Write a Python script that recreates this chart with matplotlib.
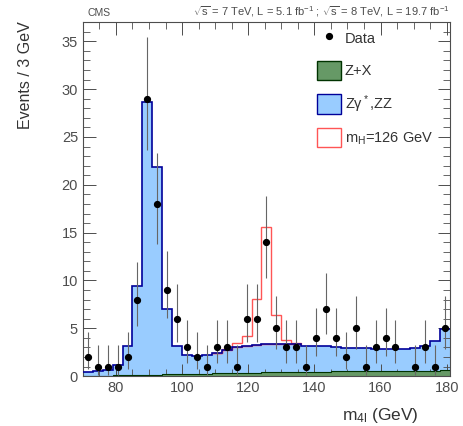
import math
import numpy as np
import matplotlib
matplotlib.use('Agg')
import matplotlib.pyplot as plt
from matplotlib.patches import Patch
from matplotlib.lines import Line2D
from matplotlib.ticker import MultipleLocator

plt.rcParams['font.family'] = ['Liberation Sans', 'DejaVu Sans']
plt.rcParams['mathtext.fontset'] = 'custom'
plt.rcParams['mathtext.rm'] = 'Liberation Sans'
plt.rcParams['mathtext.it'] = 'Liberation Sans'
plt.rcParams['mathtext.default'] = 'regular'

# 4-lepton mass spectrum, 3 GeV bins from 70 to 181
edges = np.arange(70, 182, 3)
centers = edges[:-1] + 1.5

data = [2, 1, 1, 1, 2, 8, 29, 18, 9, 6, 3, 2, 1, 3, 3, 1, 6, 6, 14, 5, 3, 3, 1,
        4, 7, 4, 2, 5, 1, 3, 4, 3, 0, 1, 3, 1, 5]

zx = [0.05, 0.05, 0.06, 0.07, 0.08, 0.10, 0.12, 0.15, 0.18, 0.20, 0.22, 0.25,
      0.27, 0.30, 0.32, 0.34, 0.36, 0.38, 0.40, 0.42, 0.43, 0.45, 0.46, 0.47,
      0.48, 0.50, 0.50, 0.51, 0.52, 0.53, 0.54, 0.55, 0.55, 0.56, 0.57, 0.58, 0.60]

zz = [0.35, 0.45, 0.54, 1.13, 3.12, 9.30, 28.58, 21.75, 6.82, 3.00, 1.98, 1.85,
      1.93, 2.10, 2.38, 2.66, 2.84, 2.92, 3.00, 2.98, 2.97, 2.90, 2.74, 2.63,
      2.62, 2.50, 2.45, 2.39, 2.38, 2.32, 2.31, 2.30, 2.25, 2.34, 2.53, 3.12, 4.30]

higgs = [0, 0, 0, 0, 0, 0, 0, 0, 0, 0, 0, 0, 0, 0.05, 0.1, 0.5, 1.0, 4.8, 12.2,
         3.0, 0.4, 0.15, 0, 0, 0, 0, 0, 0, 0, 0, 0, 0, 0, 0, 0, 0, 0]


def pois_cdf(n, mu):
    s = 0.0
    term = math.exp(-mu)
    for k in range(n + 1):
        s += term
        term *= mu / (k + 1)
    return s


def garwood(n, alpha=0.1587):
    # central 68% poisson interval by bisection
    lo = 0.0
    if n > 0:
        a, b = 0.0, float(n)
        for _ in range(60):
            m = 0.5 * (a + b)
            if 1 - pois_cdf(n - 1, m) < alpha:
                a = m
            else:
                b = m
        lo = 0.5 * (a + b)
    a, b = float(n), n + 10 * math.sqrt(n + 1) + 5
    for _ in range(60):
        m = 0.5 * (a + b)
        if pois_cdf(n, m) > alpha:
            a = m
        else:
            b = m
    return lo, 0.5 * (a + b)


zx = np.array(zx)
zz = np.array(zz)
higgs = np.array(higgs)
data = np.array(data)
bkg = zx + zz

fig = plt.figure(figsize=(4.63, 4.26), dpi=100)
ax = fig.add_axes([0.179, 0.117, 0.793, 0.831])

# signal on top of background, only where it is non zero
sel = np.nonzero(higgs)[0]
i0, i1 = sel[0], sel[-1] + 1
ax.stairs(bkg[i0:i1] + higgs[i0:i1], edges[i0:i1 + 1], baseline=bkg[i0:i1],
          fill=False, color='#ff5555', lw=1.0, zorder=2)

ax.stairs(bkg, edges, fill=True, color='#99ccff', zorder=1)
ax.stairs(bkg, edges, fill=False, color='#000099', lw=1.2, baseline=None, zorder=3)
ax.stairs(zx, edges, fill=True, color='#669966', zorder=2)
ax.stairs(zx, edges, fill=False, color='#003300', lw=0.8, baseline=None, zorder=3)

# data points with poisson error bars
m = data > 0
errs = np.array([garwood(int(n)) for n in data[m]])
ax.errorbar(centers[m], data[m], yerr=[data[m] - errs[:, 0], errs[:, 1] - data[m]],
            fmt='o', color='black', ms=4.2, ecolor='0.4', elinewidth=0.8,
            capsize=0, zorder=5)

ax.set_xlim(70, 181)
ax.set_ylim(0, 37)
ax.xaxis.set_major_locator(MultipleLocator(20))
ax.xaxis.set_minor_locator(MultipleLocator(5))
ax.yaxis.set_major_locator(MultipleLocator(5))
ax.yaxis.set_minor_locator(MultipleLocator(1))
ax.tick_params(which='both', direction='in', top=True, right=True, labelsize=10.5,
               colors='0.3')
ax.tick_params(which='major', length=9, width=0.7)
ax.tick_params(which='minor', length=5, width=0.6)
for s in ax.spines.values():
    s.set_color('0.3')
    s.set_linewidth(0.8)

ax.set_ylabel('Events / 3 GeV', fontsize=11.5, color='0.2')
ax.yaxis.set_label_coords(-0.135, 0.85)
ax.set_xlabel(r'm$_{4l}$ (GeV)', fontsize=12.5, color='0.2')
ax.xaxis.set_label_coords(0.81, -0.085)

fig.text(0.19, 0.963, 'CMS', fontsize=7.5, color='0.3')
fig.text(0.972, 0.963,
         r'$\sqrt{s}$ = 7 TeV, L = 5.1 fb$^{-1}$ ; $\sqrt{s}$ = 8 TeV, L = 19.7 fb$^{-1}$',
         fontsize=8, ha='right', color='0.3')

handles = [Line2D([], [], marker='o', ls='none', color='black', ms=4.2),
           Patch(facecolor='#669966', edgecolor='#003300'),
           Patch(facecolor='#99ccff', edgecolor='#000099'),
           Patch(facecolor='white', edgecolor='#ff5555')]
labels = ['Data', 'Z+X', r'Z$\gamma^*$,ZZ', r'm$_H$=126 GeV']
ax.legend(handles, labels, loc='upper right', bbox_to_anchor=(0.985, 1.015),
          frameon=False, fontsize=10.5, handlelength=1.65, handleheight=1.65,
          labelspacing=0.9, handletextpad=0.25, borderpad=0.3, labelcolor='0.2')

fig.savefig('out.png', dpi=100)
